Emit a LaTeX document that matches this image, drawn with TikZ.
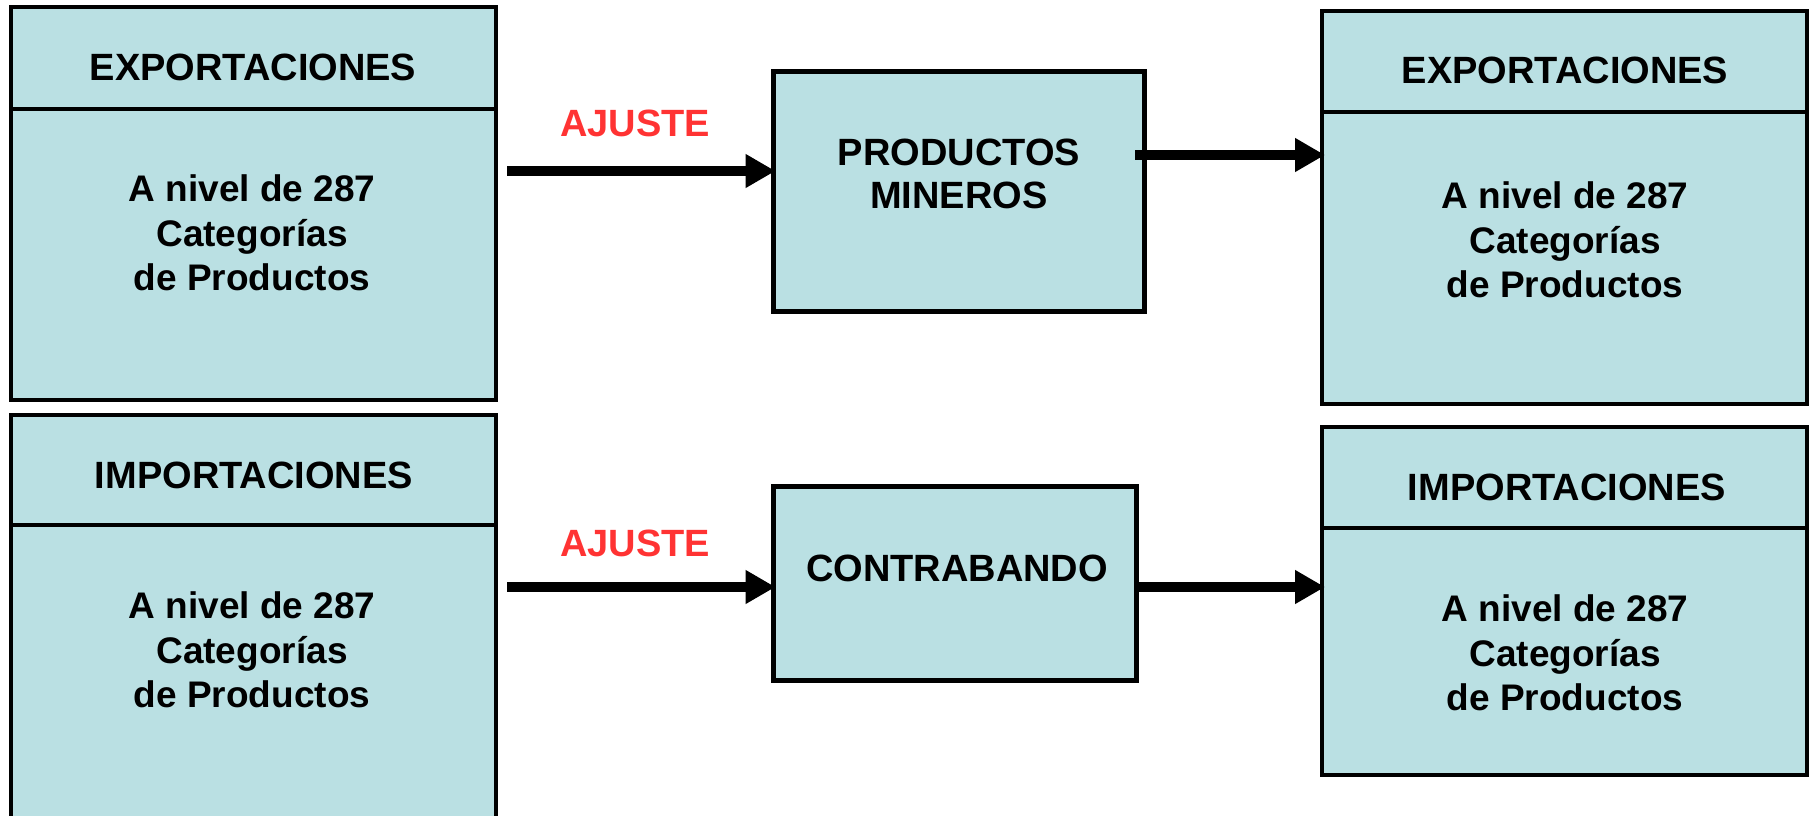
\documentclass[tikz,border=0pt]{standalone}
\usepackage{fontspec}
\setmainfont{Liberation Sans}
\usetikzlibrary{arrows.meta}
\definecolor{boxfill}{RGB}{186,224,227}
\definecolor{ajred}{RGB}{255,51,51}
\begin{document}
\begin{tikzpicture}[x=0.5pt,y=-0.5pt,
  panel/.style={draw=black, fill=boxfill, line width=2pt, rectangle, inner sep=0pt},
  divider/.style={draw=black, line width=1.6pt},
  hdr/.style={font=\bfseries\fontsize{19}{21.5}\selectfont, align=center, inner sep=0pt},
  body/.style={font=\bfseries\fontsize{18.5}{22.25}\selectfont, align=center, inner sep=0pt},
  adj/.style={font=\bfseries\fontsize{19}{23}\selectfont, text=ajred, inner sep=0pt},
  flow/.style={line width=5pt, -{Triangle[length=15pt,width=16pt]}, shorten >=-2.5pt}
]
\useasboundingbox (0,0) rectangle (1812,815);
\clip (0,0) rectangle (1812,815);

% panels
\node[panel, minimum width=242.5pt, minimum height=196.5pt] (LT) at (253.5,203.5) {};
\node[panel, minimum width=242.5pt, minimum height=207.5pt] (LB) at (253.5,622.5) {};
\node[panel, line width=2.5pt, minimum width=185.5pt, minimum height=120pt] (MT) at (958.5,191) {};
\node[panel, line width=2.5pt, minimum width=181.5pt, minimum height=97pt] (MB) at (954.5,583) {};
\node[panel, minimum width=242.5pt, minimum height=196.5pt] (RT) at (1564.5,207) {};
\node[panel, minimum width=242.5pt, minimum height=174pt] (RB) at (1564.5,601) {};

% header dividers
\coordinate (dLT) at (0,109);
\coordinate (dLB) at (0,525);
\coordinate (dRT) at (0,112);
\coordinate (dRB) at (0,528);
\draw[divider] (LT.west |- dLT) -- (LT.east |- dLT);
\draw[divider] (LB.west |- dLB) -- (LB.east |- dLB);
\draw[divider] (RT.west |- dRT) -- (RT.east |- dRT);
\draw[divider] (RB.west |- dRB) -- (RB.east |- dRB);

% texts
\node[hdr] (LTh) at (253,67) {EXPORTACIONES};
\node[body] (LTb) at (252,233) {A nivel de 287\\Categorías\\de Productos};
\node[hdr] (LBh) at (254,475) {IMPORTACIONES};
\node[body] (LBb) at (252,650) {A nivel de 287\\Categorías\\de Productos};
\node[hdr] (MTt) at (959,173.5) {PRODUCTOS\\MINEROS};
\node[hdr] (MBt) at (957,568) {CONTRABANDO};
\node[hdr] (RTh) at (1565,70) {EXPORTACIONES};
\node[body] (RTb) at (1565,240) {A nivel de 287\\Categorías\\de Productos};
\node[hdr] (RBh) at (1567,487) {IMPORTACIONES};
\node[body] (RBb) at (1565,653) {A nivel de 287\\Categorías\\de Productos};
\node[adj] (aj1) at (635,123) {AJUSTE};
\node[adj] (aj2) at (635,543) {AJUSTE};

% connectors
\coordinate (s1) at (507,171);
\coordinate (s2) at (1135,155);
\coordinate (s3) at (507,587);
\draw[flow] (s1) -- (MT.west |- s1);
\draw[flow] (s2) -- (RT.west |- s2);
\draw[flow] (s3) -- (MB.west |- s3);
\draw[flow] (MB.east |- s3) -- (RB.west |- s3);
\end{tikzpicture}
\end{document}
